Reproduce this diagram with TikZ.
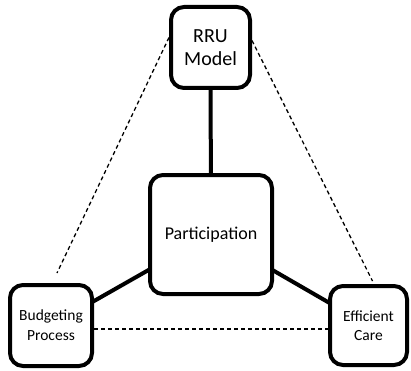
\documentclass[tikz,border=0pt]{standalone}
\usepackage{fontspec}
\setmainfont{Carlito}
\usepackage{tikz}
\usetikzlibrary{positioning}

\begin{document}
\begin{tikzpicture}[x=1pt,y=1pt,semithick,
    box/.style={draw,fill=white,line width=4pt,rounded corners=13pt,align=center,inner sep=0pt},
    link/.style={line width=4pt},
    loose/.style={dash pattern=on 4pt off 3pt,line width=1.3pt}]
                \useasboundingbox (0,0) rectangle (411,370);
                % solid links go under the boxes
                \coordinate (cp) at (211,135.5);
                \coordinate (cr) at (210.5,322.5);
                \coordinate (cb) at (51,44.5);
                \coordinate (ce) at (368.5,44.5);
                \draw[link] (cr) -- (cp) (cp) -- (cb) (cp) -- (ce);
                \node[box,minimum width=122pt,minimum height=119pt,font=\fontsize{18}{22}\selectfont] (part) at (cp) {Participation};
                \node[box,minimum width=79pt,minimum height=81pt,font=\fontsize{20}{23}\selectfont] (rru) at (cr) {RRU\\Model};
                \node[box,minimum width=82pt,minimum height=81pt,font=\fontsize{15.5}{20}\selectfont] (bud) at (cb) {Budgeting\\Process};
                \node[box,minimum width=77pt,minimum height=79pt,font=\fontsize{15.5}{19}\selectfont] (eff) at (ce) {Efficient\\Care};
                \draw[loose] ([yshift=10pt]rru.west) -- ([xshift=6pt,yshift=10pt]bud.north);
                \draw[loose] ([yshift=7pt]rru.east) -- ([xshift=4pt,yshift=3pt]eff.north);
                \draw[loose] ([yshift=-3.5pt]bud.east) -- ([yshift=-3.5pt]eff.west);
            \end{tikzpicture}
\end{document}
